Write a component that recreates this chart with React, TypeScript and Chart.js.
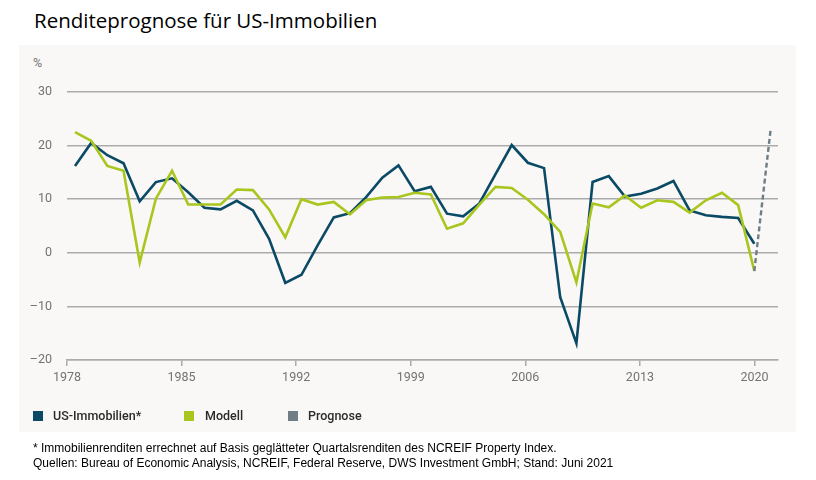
import React, { useEffect, useRef } from "react";
import { Chart, registerables } from "chart.js";

Chart.register(...registerables);

const years: number[] = [
  1978, 1979, 1980, 1981, 1982, 1983, 1984, 1985, 1986, 1987, 1988, 1989, 1990, 1991, 1992,
  1993, 1994, 1995, 1996, 1997, 1998, 1999, 2000, 2001, 2002, 2003, 2004, 2005, 2006, 2007,
  2008, 2009, 2010, 2011, 2012, 2013, 2014, 2015, 2016, 2017, 2018, 2019, 2020,
];

const usImmobilien: number[] = [
  16.2, 20.5, 18.2, 16.7, 9.6, 13.2, 13.9, 11.3, 8.4, 8.1, 9.7, 7.9, 2.6, -5.6, -4.1,
  1.4, 6.6, 7.4, 10.4, 14.0, 16.3, 11.5, 12.3, 7.3, 6.8, 9.2, 14.7, 20.1, 16.8, 15.8,
  -8.3, -16.9, 13.2, 14.3, 10.5, 11.0, 12.0, 13.4, 7.9, 7.0, 6.7, 6.5, 1.7,
];

const modell: number[] = [
  22.5, 20.9, 16.2, 15.3, -1.8, 10.1, 15.3, 9.0, 9.0, 9.0, 11.8, 11.7, 8.1, 2.9, 10.0,
  9.0, 9.5, 7.2, 9.8, 10.3, 10.4, 11.2, 10.9, 4.5, 5.5, 9.0, 12.3, 12.1, 9.9, 7.2,
  3.9, -5.5, 9.2, 8.5, 10.7, 8.4, 9.8, 9.5, 7.5, 9.8, 11.2, 8.9, -3.4,
];

const prognoseYears: number[] = [2020, 2021];
const prognose: number[] = [-3.4, 22.8];

const xTickLabels: number[] = [1978, 1985, 1992, 1999, 2006, 2013, 2020];
const yTickValues: number[] = [-20, -10, 0, 10, 20, 30];

const seriesNames: string[] = ["US-Immobilien*", "Modell", "Prognose"];
const seriesColors: string[] = ["#0b4a66", "#a9c61f", "#6f7e86"];

const GRID = "#ababab";
const TICK_COLOR = "#737373";
const FONT = "Roboto, 'Noto Sans', sans-serif";

export default function App() {
  const canvasRef = useRef<HTMLCanvasElement | null>(null);

  useEffect(() => {
    if (!canvasRef.current) return;
    const toPts = (xs: number[], ys: number[]) => xs.map((x, i) => ({ x, y: ys[i] }));
    const chart = new Chart(canvasRef.current, {
      type: "line",
      data: {
        datasets: [
          {
            label: seriesNames[0],
            data: toPts(years, usImmobilien),
            borderColor: seriesColors[0],
            backgroundColor: seriesColors[0],
            borderWidth: 2.6,
            pointRadius: 0,
            tension: 0,
            xAxisID: "xd",
            order: 3,
          },
          {
            label: seriesNames[1],
            data: toPts(years, modell),
            borderColor: seriesColors[1],
            backgroundColor: seriesColors[1],
            borderWidth: 2.6,
            pointRadius: 0,
            tension: 0,
            xAxisID: "xd",
            order: 2,
          },
          {
            label: seriesNames[2],
            data: toPts(prognoseYears, prognose),
            borderColor: seriesColors[2],
            backgroundColor: seriesColors[2],
            borderWidth: 2.4,
            borderDash: [5, 3],
            pointRadius: 0,
            tension: 0,
            xAxisID: "xd",
            order: 1,
          },
        ],
      },
      options: {
        animation: false,
        responsive: false,
        maintainAspectRatio: false,
        layout: { padding: { left: 0, right: 38, top: 92, bottom: 90 } },
        plugins: { legend: { display: false }, tooltip: { enabled: false } },
        scales: {
          x: {
            type: "linear",
            position: "bottom",
            min: 1978,
            max: 2021.436,
            afterBuildTicks: (scale: any) => {
              scale.ticks = xTickLabels.map((v) => ({ value: v }));
            },
            afterFit: (scale: any) => {
              scale.height = 30;
            },
            ticks: {
              color: TICK_COLOR,
              font: { family: FONT, size: 12.5 },
              padding: 4,
              maxRotation: 0,
              autoSkip: false,
              callback: (v: any) => String(v),
            },
            grid: {
              drawOnChartArea: false,
              drawTicks: true,
              tickLength: 6,
              color: GRID,
              lineWidth: 1.5,
            },
            border: { display: true, color: GRID, width: 1.5 },
          },
          xd: {
            type: "linear",
            display: false,
            min: 1977.5054,
            max: 2021.464,
          },
          y: {
            min: -20,
            max: 30,
            afterBuildTicks: (scale: any) => {
              scale.ticks = yTickValues.map((v) => ({ value: v }));
            },
            afterFit: (scale: any) => {
              scale.width = 67;
            },
            ticks: {
              color: TICK_COLOR,
              font: { family: FONT, size: 12.5 },
              padding: 15,
              callback: (v: any) => (Number(v) < 0 ? "\u2013" + Math.abs(Number(v)) : String(v)),
            },
            grid: { color: GRID, lineWidth: 1.5, drawTicks: false },
            border: { display: false },
          },
        },
      },
    });
    return () => chart.destroy();
  }, []);

  const legendItems = [
    { left: 33, textLeft: 53 },
    { left: 184, textLeft: 205 },
    { left: 288, textLeft: 308 },
  ];

  return (
    <div style={{ position: "absolute", left: 0, top: 0, width: 816, height: 480, background: "#ffffff", overflow: "hidden" }}>
      <div
        style={{
          position: "absolute",
          left: 34,
          top: 5,
          fontFamily: "'Open Sans', sans-serif",
          fontSize: 20.5,
          color: "#000",
          whiteSpace: "nowrap",
          lineHeight: "30px",
        }}
      >
        Renditeprognose für US-Immobilien
      </div>
      <div style={{ position: "absolute", left: 19, top: 45, width: 777, height: 387, background: "#f9f8f6" }} />
      <div
        style={{
          position: "absolute",
          left: 33,
          top: 55,
          fontFamily: FONT,
          fontSize: 12.5,
          color: TICK_COLOR,
          lineHeight: "16px",
        }}
      >
        %
      </div>
      <canvas ref={canvasRef} width={816} height={480} style={{ position: "absolute", left: 0, top: 0, width: 816, height: 480 }} />
      {legendItems.map((it, i) => (
        <React.Fragment key={i}>
          <div
            style={{
              position: "absolute",
              left: it.left,
              top: 411,
              width: 10,
              height: 10,
              background: seriesColors[i],
            }}
          />
          <div
            style={{
              position: "absolute",
              left: it.textLeft,
              top: 407,
              fontFamily: FONT,
              fontWeight: 500,
              fontSize: 12.5,
              color: "#2a2a2a",
              lineHeight: "18px",
              whiteSpace: "nowrap",
            }}
          >
            {seriesNames[i]}
          </div>
        </React.Fragment>
      ))}
      <div
        style={{
          position: "absolute",
          left: 33,
          top: 441,
          fontFamily: "'Liberation Sans', Arial, sans-serif",
          fontSize: 12,
          color: "#000",
          lineHeight: "15px",
          whiteSpace: "nowrap",
        }}
      >
        <div>* Immobilienrenditen errechnet auf Basis geglätteter Quartalsrenditen des NCREIF Property Index.</div>
        <div>Quellen: Bureau of Economic Analysis, NCREIF, Federal Reserve, DWS Investment GmbH; Stand: Juni 2021</div>
      </div>
    </div>
  );
}
